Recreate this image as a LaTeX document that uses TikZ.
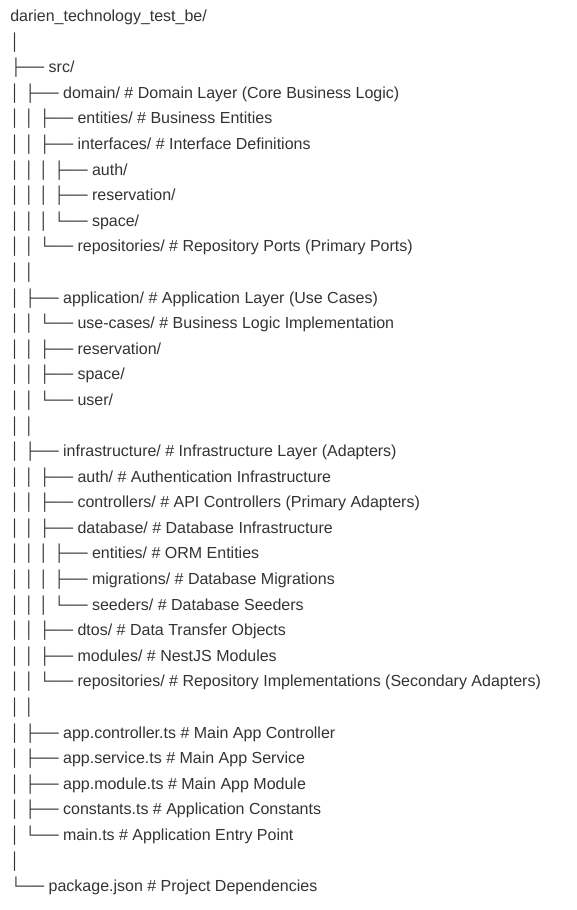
\documentclass[tikz,border=0pt]{standalone}
\usepackage{fontspec}
\setmainfont{Liberation Sans}
\definecolor{treegray}{HTML}{333333}
\begin{document}
\begin{tikzpicture}[x=.75pt,y=.75pt, font=\fontsize{12pt}{14pt}\selectfont, text=treegray,
  treeline/.style={inner sep=0pt, anchor=base west}]
\useasboundingbox (0,0) rectangle (577,-910);
\path (10,-21.6) coordinate (top);
\foreach \t [count=\i] in {
 darien\_technology\_test\_be/,
 │,
 ├── src/,
 │ ├── domain/ \# Domain Layer (Core Business Logic),
 │ │ ├── entities/ \# Business Entities,
 │ │ ├── interfaces/ \# Interface Definitions,
 │ │ │ ├── auth/,
 │ │ │ ├── reservation/,
 │ │ │ └── space/,
 │ │ └── repositories/ \# Repository Ports (Primary Ports),
 │ │,
 │ ├── application/ \# Application Layer (Use Cases),
 │ │ └── use-cases/ \# Business Logic Implementation,
 │ │ ├── reservation/,
 │ │ ├── space/,
 │ │ └── user/,
 │ │,
 │ ├── infrastructure/ \# Infrastructure Layer (Adapters),
 │ │ ├── auth/ \# Authentication Infrastructure,
 │ │ ├── controllers/ \# API Controllers (Primary Adapters),
 │ │ ├── database/ \# Database Infrastructure,
 │ │ │ ├── entities/ \# ORM Entities,
 │ │ │ ├── migrations/ \# Database Migrations,
 │ │ │ └── seeders/ \# Database Seeders,
 │ │ ├── dtos/ \# Data Transfer Objects,
 │ │ ├── modules/ \# NestJS Modules,
 │ │ └── repositories/ \# Repository Implementations (Secondary Adapters),
 │ │,
 │ ├── app.controller.ts \# Main App Controller,
 │ ├── app.service.ts \# Main App Service,
 │ ├── app.module.ts \# Main App Module,
 │ ├── constants.ts \# Application Constants,
 │ └── main.ts \# Application Entry Point,
 │,
 └── package.json \# Project Dependencies}
\node[treeline] (line\i) at ([yshift={-(\i-1)*25.59*.75pt}]top) {\t};
\end{tikzpicture}
\end{document}
